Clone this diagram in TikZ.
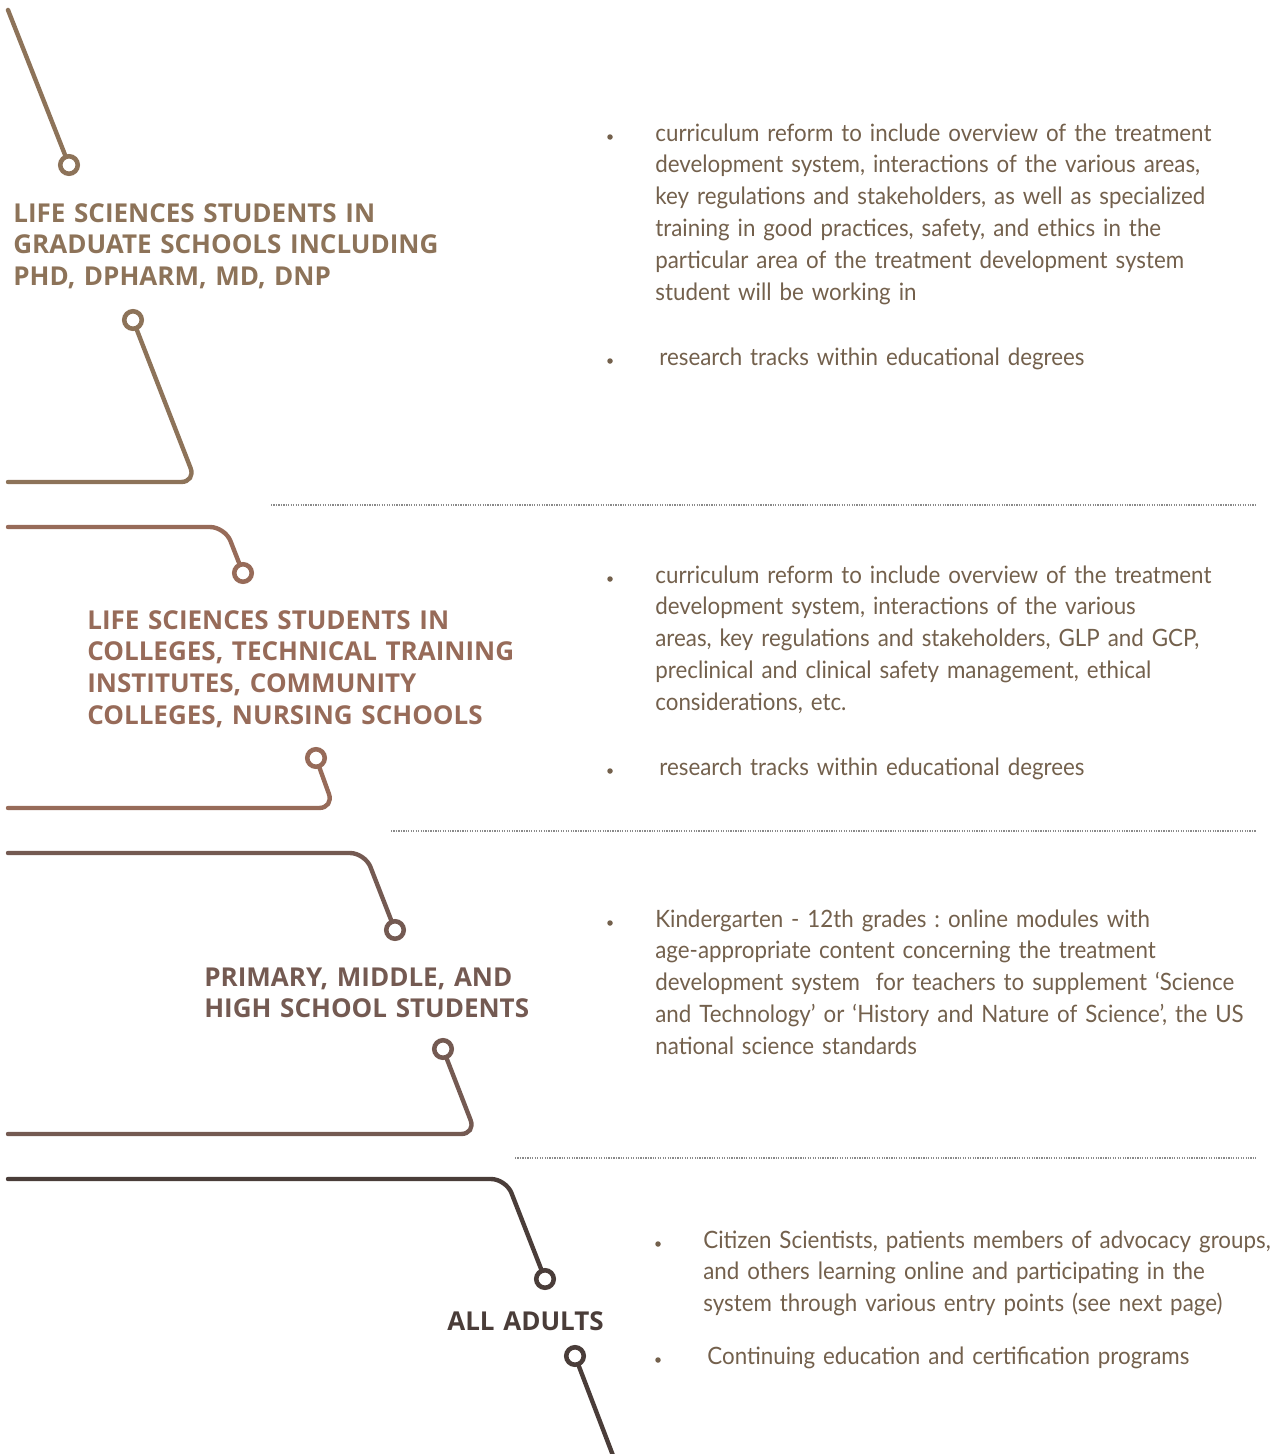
\documentclass[tikz,border=0pt]{standalone}
\usepackage{fontspec}
\setmainfont[FakeStretch=0.935, WordSpace=0.75]{Lato}
\newfontfamily\headfont{Open Sans}
\usetikzlibrary{positioning}
\frenchspacing

\definecolor{gradbrown}{HTML}{8D7359}
\definecolor{collbrown}{HTML}{976B59}
\definecolor{schoolbrown}{HTML}{745A52}
\definecolor{adultbrown}{HTML}{4A3D39}
\definecolor{bodytext}{HTML}{73604C}
\definecolor{sepgray}{HTML}{8A8A8A}

\begin{document}
\begin{tikzpicture}[x=0.02cm, y=-0.02cm,
	pin/.style={circle, draw=#1, fill=white, line width=2.6pt, minimum size=0.35cm, inner sep=0pt, outer sep=0pt},
	wire/.style={draw=#1, line width=2.5pt, line cap=round, rounded corners=0.3cm},
	heading/.style={anchor=base west, inner sep=0pt, text=#1, align=left, text width=11cm,
		font=\headfont\bfseries\fontsize{14.8pt}{18.2pt}\selectfont},
	item/.style={anchor=base west, inner sep=0pt, text=bodytext, align=left, text width=13cm,
		font=\fontsize{13.6pt}{18.2pt}\selectfont},
	dot/.style={circle, fill=bodytext, inner sep=0pt, minimum size=0.11cm},
	sep/.style={draw=sepgray, line width=0.7pt, dash pattern=on 0.7pt off 0.7pt}]

	\useasboundingbox (0,0) rectangle (1275,1454);

	% graduate schools
	\coordinate (g1start) at (8,10);
	\node[pin=gradbrown] (g1in) at (69,165) {};
	\node[heading=gradbrown] (g1head) at (13,222) {LIFE SCIENCES STUDENTS IN\\GRADUATE SCHOOLS INCLUDING\\PHD, DPHARM, MD, DNP};
	\node[pin=gradbrown] (g1out) at (133,320) {};
	\coordinate (g1bend) at (196,482);
	\coordinate (g1end) at (8,482);
	\draw[wire=gradbrown] (g1start) -- (g1in);
	\draw[wire=gradbrown] (g1out) -- (g1bend) -- (g1end);

	\node[dot] (g1dotA) at (610,137) {};
	\node[item] (g1itemA) at (655,141) {curriculum reform to include overview of the treatment\\development system, interactions of the various areas,\\key regulations and stakeholders, as well as specialized\\training in good practices, safety, and ethics in the\\particular area of the treatment development system\\student will be working in};
	\node[dot] (g1dotB) at (610,361) {};
	\node[item] (g1itemB) at (659,365) {research tracks within educational degrees};

	\coordinate (sepAleft) at (271,505);
	\coordinate (sepAright) at (1256,505);
	\draw[sep] (sepAleft) -- (sepAright);

	% colleges
	\coordinate (c2start) at (8,527);
	\coordinate (c2bend) at (225,527);
	\node[pin=collbrown] (c2in) at (243,573) {};
	\node[heading=collbrown] (c2head) at (87,629) {LIFE SCIENCES STUDENTS IN\\COLLEGES, TECHNICAL TRAINING\\INSTITUTES, COMMUNITY\\COLLEGES, NURSING SCHOOLS};
	\node[pin=collbrown] (c2out) at (316,758) {};
	\coordinate (c2bendB) at (334,808);
	\coordinate (c2end) at (8,808);
	\draw[wire=collbrown] (c2start) -- (c2bend) -- (c2in);
	\draw[wire=collbrown] (c2out) -- (c2bendB) -- (c2end);

	\node[dot] (c2dotA) at (610,579) {};
	\node[item] (c2itemA) at (655,583) {curriculum reform to include overview of the treatment\\development system, interactions of the various\\areas, key regulations and stakeholders, GLP and GCP,\\preclinical and clinical safety management, ethical\\considerations, etc.};
	\node[dot] (c2dotB) at (610,771) {};
	\node[item] (c2itemB) at (659,775) {research tracks within educational degrees};

	\coordinate (sepBleft) at (391,831);
	\coordinate (sepBright) at (1256,831);
	\draw[sep] (sepBleft) -- (sepBright);

	% schools
	\coordinate (s3start) at (8,853);
	\coordinate (s3bend) at (365,853);
	\node[pin=schoolbrown] (s3in) at (395,930) {};
	\node[heading=schoolbrown] (s3head) at (204,986) {PRIMARY, MIDDLE, AND\\HIGH SCHOOL STUDENTS};
	\node[pin=schoolbrown] (s3out) at (443,1049) {};
	\coordinate (s3bendB) at (476,1134);
	\coordinate (s3end) at (8,1134);
	\draw[wire=schoolbrown] (s3start) -- (s3bend) -- (s3in);
	\draw[wire=schoolbrown] (s3out) -- (s3bendB) -- (s3end);

	\node[dot] (s3dotA) at (610,923) {};
	\node[item] (s3itemA) at (655,927) {Kindergarten - 12th grades : online modules with\\age-appropriate content concerning the treatment\\development system\ \ for teachers to supplement ‘Science\\and Technology’ or ‘History and Nature of Science’, the US\\national science standards};

	\coordinate (sepCleft) at (515,1158);
	\coordinate (sepCright) at (1256,1158);
	\draw[sep] (sepCleft) -- (sepCright);

	% adults
	\coordinate (a4start) at (8,1179);
	\coordinate (a4bend) at (506,1179);
	\node[pin=adultbrown] (a4in) at (545,1279) {};
	\node[heading=adultbrown] (a4head) at (447,1330) {ALL ADULTS};
	\node[pin=adultbrown] (a4out) at (575,1356) {};
	\coordinate (a4end) at (617,1466);
	\draw[wire=adultbrown] (a4start) -- (a4bend) -- (a4in);
	\draw[wire=adultbrown] (a4out) -- (a4end);

	\node[dot] (a4dotA) at (658,1244) {};
	\node[item] (a4itemA) at (703,1248) {Citizen Scientists, patients members of advocacy groups,\\and others learning online and participating in the\\system through various entry points (see next page)};
	\node[dot] (a4dotB) at (658,1360) {};
	\node[item] (a4itemB) at (707,1364) {Continuing education and certification programs};
\end{tikzpicture}
\end{document}
